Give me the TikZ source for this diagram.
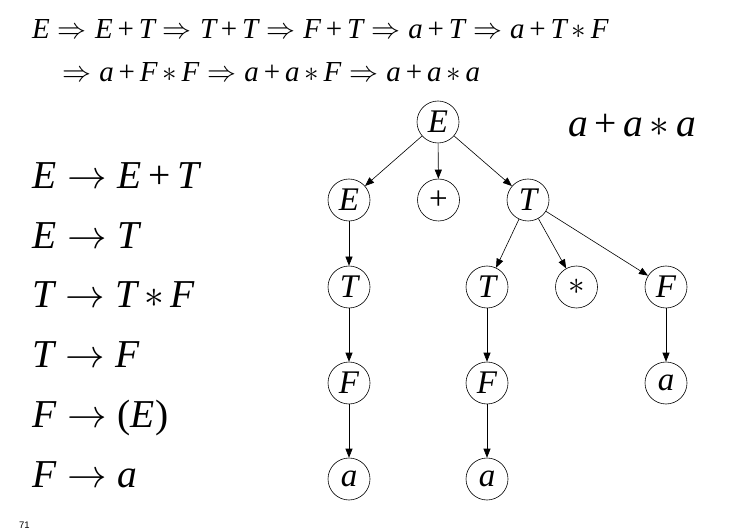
\RequirePackage{fix-cm}
\documentclass[tikz,border=0pt]{standalone}
\usepackage{fontspec}
\setmainfont{Liberation Serif}
\newfontfamily\pagefont{Liberation Sans}
\usetikzlibrary{arrows.meta}
\newcommand\V[1]{\mbox{\itshape #1}}
\newcommand\Pl{\mathbin{\mbox{+}}}
\newcommand\Lp{\mathopen{\mbox{(}}}
\newcommand\Rp{\mathclose{\mbox{)}}}
\medmuskip=3mu plus 2mu minus 3mu
\begin{document}
\begin{tikzpicture}[x=1pt,y=-1pt,
  tn/.style={circle,draw,line width=0.6pt,minimum size=42pt,inner sep=0pt,font=\fontsize{33}{36}\selectfont},
  edge/.style={line width=0.6pt,-{Triangle[length=9pt,width=7pt]}},
  deriv/.style={anchor=base west,inner sep=0pt,font=\fontsize{29}{34}\selectfont},
  rulet/.style={anchor=base west,inner sep=0pt,font=\fontsize{39.5}{48}\selectfont}]
\useasboundingbox (0,0) rectangle (736,529);
% derivation
\node[deriv] (d1) at (32,39) {$\V{E}\Rightarrow\V{E}\Pl\V{T}\Rightarrow\V{T}\Pl\V{T}\Rightarrow\V{F}\Pl\V{T}\Rightarrow\V{a}\Pl\V{T}\Rightarrow\V{a}\Pl\V{T}*\V{F}$};
\node[deriv] (d2) at (62,82) {$\Rightarrow\V{a}\Pl\V{F}*\V{F}\Rightarrow\V{a}\Pl\V{a}*\V{F}\Rightarrow\V{a}\Pl\V{a}*\V{a}$};
% rules
\node[rulet] (r1) at (32,189) {$\V{E}\rightarrow\V{E}\Pl\V{T}$};
\node[rulet] (r2) at (32,249) {$\V{E}\rightarrow\V{T}$};
\node[rulet] (r3) at (32,308) {$\V{T}\rightarrow\V{T}*\V{F}$};
\node[rulet] (r4) at (32,367) {$\V{T}\rightarrow\V{F}$};
\node[rulet] (r5) at (32,427) {$\V{F}\rightarrow\Lp\V{E}\Rp$};
\node[rulet] (r6) at (32,487) {$\V{F}\rightarrow\V{a}$};
% sentence
\node[rulet] (ex) at (568,137) {$\V{a}\Pl\V{a}*\V{a}$};
% tree
\node[tn] (root) at (438,122) {$\V{E}$};
\node[tn] (e2) at (349,200) {$\V{E}$};
\node[tn] (plus) at (438.5,200) {+};
\node[tn] (t2) at (528,200) {$\V{T}$};
\node[tn] (t3a) at (349,287) {$\V{T}$};
\node[tn] (t3b) at (487,287) {$\V{T}$};
\node[tn] (star) at (576.5,287) {$*$};
\node[tn] (f3) at (666,287) {$\V{F}$};
\node[tn] (f4a) at (349,383) {$\V{F}$};
\node[tn] (f4b) at (487,383) {$\V{F}$};
\node[tn] (a4) at (666,383) {$\V{a}$};
\node[tn] (a5a) at (349,479) {$\V{a}$};
\node[tn] (a5b) at (487,479) {$\V{a}$};
\draw[edge] (root) -- (e2);
\draw[edge] (root) -- (plus);
\draw[edge] (root) -- (t2);
\draw[edge] (e2) -- (t3a);
\draw[edge] (t2) -- (t3b);
\draw[edge] (t2) -- (star);
\draw[edge] (t2) -- (f3);
\draw[edge] (t3a) -- (f4a);
\draw[edge] (t3b) -- (f4b);
\draw[edge] (f3) -- (a4);
\draw[edge] (f4a) -- (a5a);
\draw[edge] (f4b) -- (a5b);
% page number
\node[anchor=base west,inner sep=0pt,font=\pagefont\fontsize{9.5}{11}\selectfont] (pg) at (19,528) {71};
\end{tikzpicture}
\end{document}
